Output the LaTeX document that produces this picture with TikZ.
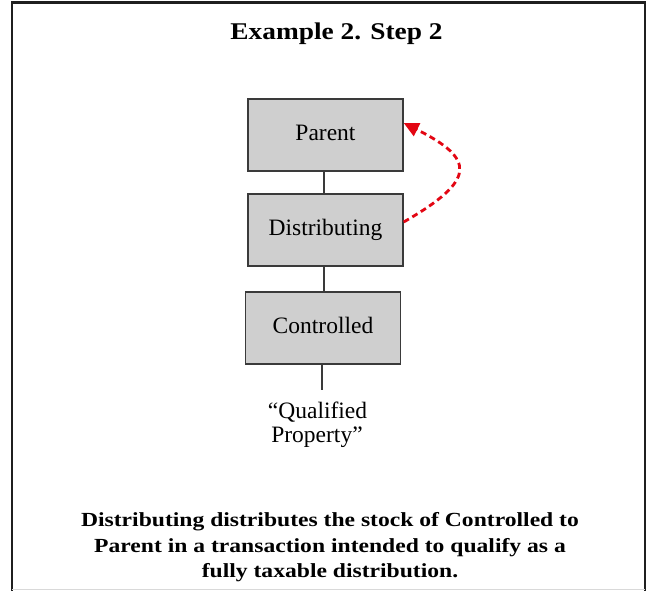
\documentclass[tikz,border=0pt]{standalone}
\usepackage{fontspec}
\setmainfont{Liberation Serif}
\newfontfamily\headfont{Liberation Serif}[FakeStretch=1.14]
\newfontfamily\notefont{Liberation Serif}[FakeStretch=1.18]
\usetikzlibrary{arrows.meta}
\definecolor{boxgray}{HTML}{CFCFCF}
\definecolor{edgegray}{HTML}{3A3A3A}
\definecolor{flowred}{HTML}{E30613}
\tikzset{
  entity/.style={draw=edgegray, line width=1.4pt, fill=boxgray, inner sep=0pt,
    minimum width=155pt, minimum height=72pt, text height=17pt, text depth=7pt,
    font=\fontsize{23.5}{26}\selectfont},
  link/.style={draw=edgegray, line width=1.2pt},
  frame/.style={draw=black!88, line width=2.6pt},
  flow/.style={draw=flowred, line width=2.8pt, dash pattern=on 6pt off 4pt,
    -{Triangle[length=15pt,width=14pt]}},
  heading/.style={anchor=base, inner sep=0pt, font=\headfont\bfseries\fontsize{24}{28}\selectfont},
  note/.style={anchor=base, inner sep=0pt, font=\notefont\bfseries\fontsize{20}{26}\selectfont},
  plain/.style={anchor=base, inner sep=0pt, font=\fontsize{23.5}{20}\selectfont}
}
\begin{document}
\begin{tikzpicture}[x=1pt, y=-1pt]
  \useasboundingbox[fill=white] (0,0) rectangle (647,590);

  % outer frame
  \draw[frame] (12,592) -- (12,2.3) -- (645,2.3) -- (645,592);
  \draw[black!15, line width=1pt] (12,589) -- (645,589);

  % heading
  \node[heading] (title) at (336.5,39) {Example 2. Step 2};

  % ownership chain
  \node[entity] (parent) at (325.5,135) {Parent};
  \node[entity] (dist)   at (325.5,230) {Distributing};
  \node[entity] (ctrl)   at (323,328)   {Controlled};
  \coordinate (qp) at (322,390);

  \draw[link] (parent.south -| 324,0) -- (dist.north -| 324,0);
  \draw[link] (dist.south -| 324,0) -- (ctrl.north -| 324,0);
  \draw[link] (ctrl.south -| qp) -- (qp);

  \node[plain] (qual) at (317.5,418) {``Qualified};
  \node[plain] (prop) at (317,442) {Property''};

  % distribution of Controlled stock to Parent
  \draw[flow] ([yshift=8pt]dist.east) .. controls +(73,-42) and +(72,36) .. ([yshift=12pt]parent.east);

  % description
  \node[note] (line1) at (330,526) {Distributing distributes the stock of Controlled to};
  \node[note] (line2) at (330,552) {Parent in a transaction intended to qualify as a};
  \node[note] (line3) at (330,577.5) {fully taxable distribution.};
\end{tikzpicture}
\end{document}
